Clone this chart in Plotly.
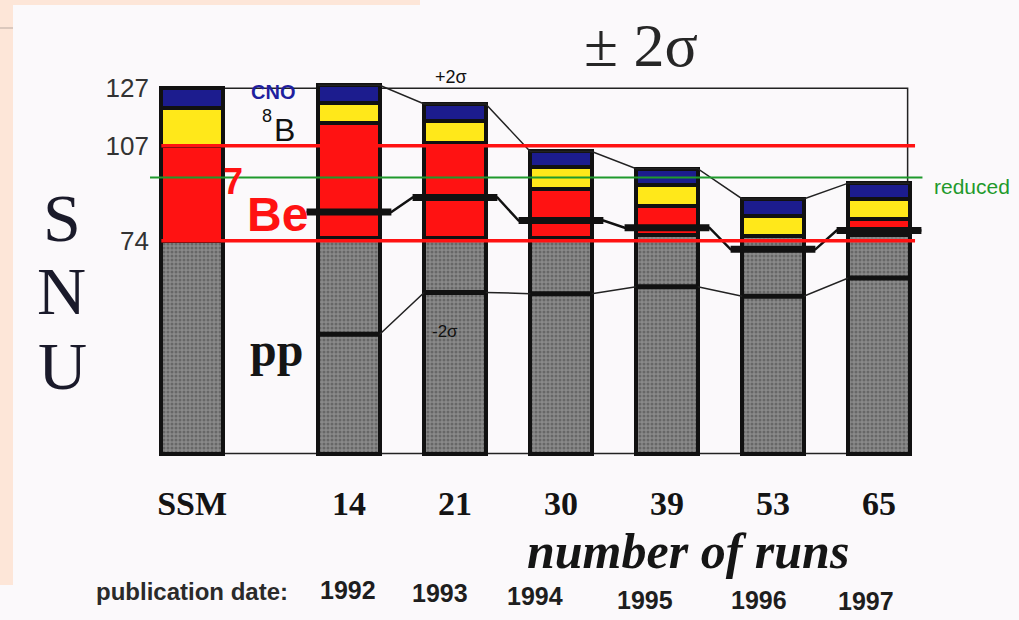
import plotly.graph_objects as go

# ---------------- data ----------------
categories = ["SSM", "14", "21", "30", "39", "53", "65"]
pub_years = ["1992", "1993", "1994", "1995", "1996", "1997"]

pp_snu = [74, 75, 75, 75, 76, 75.5, 76]          # grey (pp)
be7_snu = [33, 40, 33, 17, 10, 0, 5.5]           # red (7Be)
b8_snu = [13, 7, 7.5, 7.5, 7.5, 7, 7]            # yellow (8B)
cno_snu = [7, 6, 6, 5.5, 5.5, 6, 5.5]            # blue (CNO)

central_value = [84, 89, 81, 78.5, 71, 77.5]     # measured rate, runs 14..65
minus_2sigma = [41.5, 56, 55.6, 58, 54.7, 61]    # -2 sigma, runs 14..65

ytick_vals = [74, 107, 127]
ytick_text = ["74", "107", "127"]
reduced_level = 96

# ---------------- geometry / style ----------------
FW, FH = 1019, 620
ML, MR, MT, MB = 150, 34, 22, 152
PW, PH = FW - ML - MR, FH - MT - MB


def fx(px):
    return (px - ML) / PW


def fy(py):
    return (MT + PH - py) / PH


x_pos = [-0.48, 1, 2, 3, 4, 5, 6]
BAR_W = 0.58
HALF = BAR_W / 2
MARK_HALF = 0.40
FRAME_RIGHT = 6.27
RED_RIGHT = 6.34
GREEN_LEFT, GREEN_RIGHT = -0.877, 6.41

PAGE = "#fbf9fb"
PEACH = "#fde6d8"
GREY = "#858585"
RED = "#ff1212"
YELLOW = "#ffe81a"
NAVY = "#1c1c8e"
GREEN = "#1f9a2c"

fig = go.Figure()

layers = [
    ("pp", pp_snu, GREY),
    ("7Be", be7_snu, RED),
    ("8B", b8_snu, YELLOW),
    ("CNO", cno_snu, NAVY),
]
for name, vals, col in layers:
    marker = dict(color=col, line=dict(color="#111111", width=4))
    if name == "pp":
        marker["pattern"] = dict(shape=".", fgcolor="#444444", bgcolor="#8a8a8a",
                                 size=4, solidity=0.45)
    fig.add_trace(go.Bar(x=x_pos, y=vals, width=BAR_W, marker=marker,
                         name=name, showlegend=False, hoverinfo="skip"))

totals = [a + b + c + d for a, b, c, d in zip(pp_snu, be7_snu, b8_snu, cno_snu)]
x_runs = x_pos[1:]
tot_runs = totals[1:]

# +2 sigma connector (bar tops)
ux, uy = [], []
for x, t in zip(x_runs, tot_runs):
    ux += [x - HALF, x + HALF]
    uy += [t, t]
fig.add_trace(go.Scatter(x=ux, y=uy, mode="lines", line=dict(color="#222", width=1.5),
                         showlegend=False, hoverinfo="skip"))

# -2 sigma connector + marks
lx, ly, lmx, lmy = [], [], [], []
for x, v in zip(x_runs, minus_2sigma):
    lx += [x - HALF, x + HALF]
    ly += [v, v]
    lmx += [x - HALF, x + HALF, None]
    lmy += [v, v, None]
fig.add_trace(go.Scatter(x=lx, y=ly, mode="lines", line=dict(color="#222", width=1.5),
                         showlegend=False, hoverinfo="skip"))
fig.add_trace(go.Scatter(x=lmx, y=lmy, mode="lines", line=dict(color="#111", width=5),
                         showlegend=False, hoverinfo="skip"))

# central values connector + marks
cx, cy, cmx, cmy = [], [], [], []
for x, v in zip(x_runs, central_value):
    cx += [x - MARK_HALF, x + MARK_HALF]
    cy += [v, v]
    cmx += [x - MARK_HALF, x + MARK_HALF, None]
    cmy += [v, v, None]
fig.add_trace(go.Scatter(x=cx, y=cy, mode="lines", line=dict(color="#111", width=2.5),
                         showlegend=False, hoverinfo="skip"))
fig.add_trace(go.Scatter(x=cmx, y=cmy, mode="lines", line=dict(color="#111", width=7),
                         showlegend=False, hoverinfo="skip"))

shapes = [
    # peach border of the slide
    dict(type="rect", xref="paper", yref="paper", x0=fx(0), x1=fx(13), y0=fy(585), y1=fy(0),
         fillcolor=PEACH, line=dict(width=0), layer="below"),
    dict(type="rect", xref="paper", yref="paper", x0=fx(0), x1=fx(420), y0=fy(5), y1=fy(0),
         fillcolor=PEACH, line=dict(width=0), layer="below"),
    dict(type="line", xref="paper", yref="paper", x0=fx(0), x1=fx(13), y0=fy(28), y1=fy(28),
         line=dict(color="#b9aaa2", width=1), layer="below"),
    # frame box
    dict(type="rect", xref="x", yref="y", x0=x_pos[0] - HALF, x1=FRAME_RIGHT, y0=0, y1=ytick_vals[2],
         line=dict(color="#222", width=1.5), layer="below"),
    # reference lines
    dict(type="line", xref="x", yref="y", x0=x_pos[0] - HALF, x1=RED_RIGHT,
         y0=ytick_vals[1], y1=ytick_vals[1], line=dict(color=RED, width=3.5), layer="above"),
    dict(type="line", xref="x", yref="y", x0=x_pos[0] - HALF, x1=RED_RIGHT,
         y0=ytick_vals[0], y1=ytick_vals[0], line=dict(color=RED, width=3.5), layer="above"),
    dict(type="line", xref="x", yref="y", x0=GREEN_LEFT, x1=GREEN_RIGHT,
         y0=reduced_level, y1=reduced_level, line=dict(color=GREEN, width=2), layer="above"),
]


def ann(px, py, text, size, family="Arial", color="#222", weight="normal",
        style="normal", xanchor="center"):
    return dict(xref="paper", yref="paper", x=fx(px), y=fy(py), text=text,
                showarrow=False, xanchor=xanchor, yanchor="middle",
                font=dict(family=family, size=size, color=color, weight=weight, style=style))


SERIF = "Liberation Serif"
annotations = [
    ann(641, 45, "± 2σ", 62, family=SERIF, color="#262626"),
    ann(451, 77, "+2σ", 18, color="#111"),
    ann(445, 331, "-2σ", 17, color="#111"),
    ann(273, 92, "CNO", 20, color="#1f1f9f", weight="bold"),
    ann(267, 116, "8", 18, color="#111"),
    ann(284, 130, "B", 32, color="#111"),
    ann(233, 181, "7", 36, color=RED, weight="bold"),
    ann(277, 214, "Be", 48, color=RED, weight="bold"),
    ann(276, 349, "pp", 48, family=SERIF, color="#151515", weight="bold"),
    ann(62, 218, "S", 68, family=SERIF, color="#1a1a2a"),
    ann(61, 291, "N", 68, family=SERIF, color="#1a1a2a"),
    ann(62, 366, "U", 68, family=SERIF, color="#1a1a2a"),
    ann(932, 187, "reduced", 21, color=GREEN, xanchor="left"),
    ann(688, 551, "number of runs", 50, family=SERIF, color="#151515",
        weight="bold", style="italic"),
    ann(192, 591, "publication date:", 24, color="#2a2a2a", weight="bold"),
]
year_px = [(348, 590), (440, 593), (535, 596), (645, 600), (759, 600), (866, 601)]
for (px, py), yr in zip(year_px, pub_years):
    annotations.append(ann(px, py, yr, 25, color="#1e1e1e", weight="bold"))

fig.update_layout(
    width=FW, height=FH,
    margin=dict(l=ML, r=MR, t=MT, b=MB, pad=0),
    paper_bgcolor=PAGE, plot_bgcolor=PAGE,
    barmode="stack", bargap=0,
    shapes=shapes, annotations=annotations,
    xaxis=dict(range=[-0.877, 7.0], tickvals=x_pos, ticktext=categories,
               tickfont=dict(family=SERIF, size=34, color="#141414", weight="bold"),
               ticks="outside", ticklen=5, tickcolor="rgba(0,0,0,0)",
               showgrid=False, zeroline=False, showline=False, fixedrange=True),
    yaxis=dict(range=[-5, 150], tickvals=ytick_vals, ticktext=ytick_text,
               tickfont=dict(family="Arial", size=26, color="#333"),
               ticks="", showgrid=False, zeroline=False, showline=False, fixedrange=True),
    showlegend=False,
)

fig.write_html("out.html", config={"displayModeBar": False},
               post_script="document.body.style.margin='0px';")
